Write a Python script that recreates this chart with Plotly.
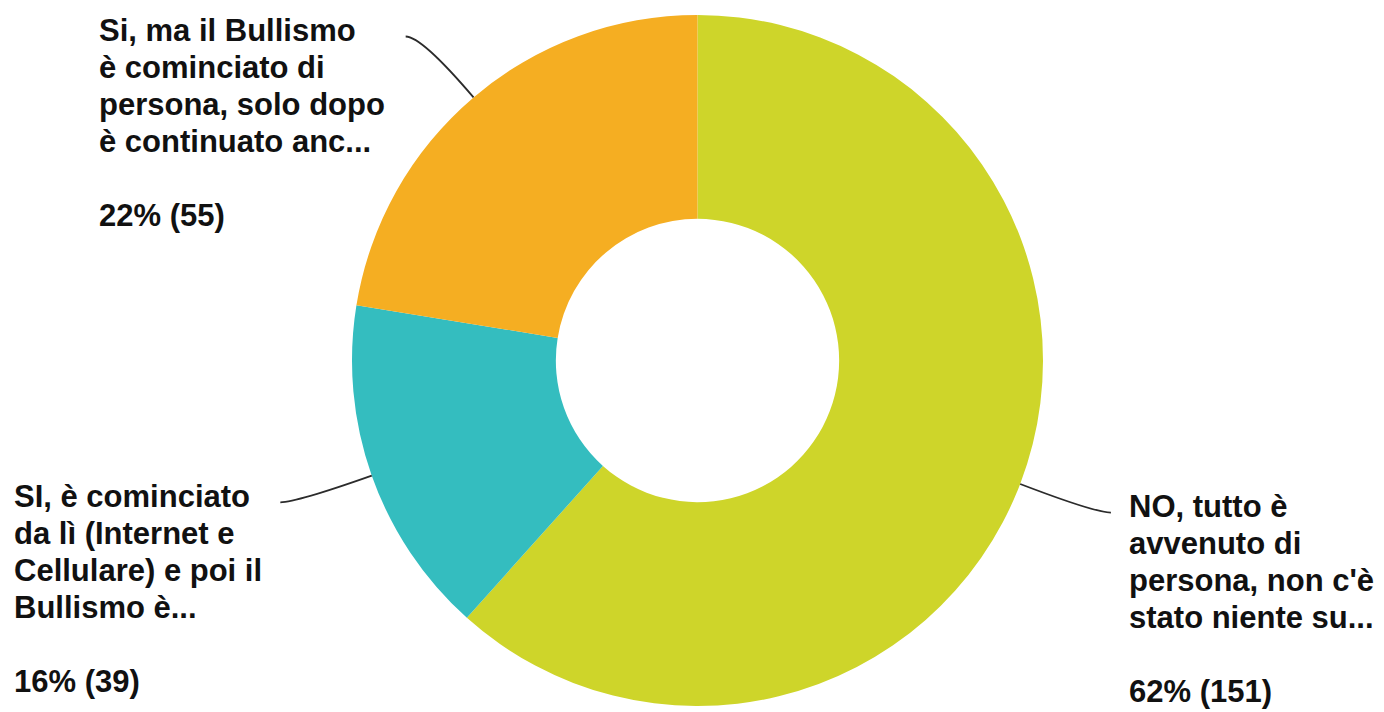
import math
import plotly.graph_objects as go

# Survey answers, counts and slice colours
labels = [
    "NO, tutto è avvenuto di persona, non c'è stato niente su...",
    "SI, è cominciato da lì (Internet e Cellulare) e poi il Bullismo è...",
    "Si, ma il Bullismo è cominciato di persona, solo dopo è continuato anc...",
]
label_lines = [
    ["NO, tutto è", "avvenuto di", "persona, non c'è", "stato niente su..."],
    ["SI, è cominciato", "da lì (Internet e", "Cellulare) e poi il", "Bullismo è..."],
    ["Si, ma il Bullismo", "è cominciato di", "persona, solo dopo", "è continuato anc..."],
]
counts = [151, 39, 55]
colors = ["#CED52A", "#34BDBF", "#F5AE22"]

W, H = 1384, 712
CX, CY, R = 697.5, 360.5, 345.5
HOLE = 0.41

# left edge of each text block (px)
text_left = [1127, 12, 97]
LINE_H = 37
FONT_SIZE = 31


def px(x):
    return x / W


def py(y):
    return 1 - y / H


fig = go.Figure(
    go.Pie(
        labels=labels,
        values=counts,
        sort=False,
        direction="clockwise",
        rotation=0,
        hole=HOLE,
        marker=dict(colors=colors, line=dict(width=0)),
        textinfo="none",
        hoverinfo="label+percent+value",
        showlegend=False,
        domain=dict(x=[px(CX - R), px(CX + R)], y=[py(CY + R), py(CY - R)]),
    )
)

total = sum(counts)
start = 0.0
shapes = []
annotations = []
for i, c in enumerate(counts):
    frac = c / total
    mid = (start + frac / 2) * 2 * math.pi
    start += frac
    dx, dy = math.sin(mid), -math.cos(mid)
    # leader: leaves the ring radially, then bends to horizontal
    x0, y0 = CX + R * dx, CY + R * dy
    x1, y1 = CX + (R + 80) * dx, CY + (R + 80) * dy
    x2 = x1 + (16 if dx > 0 else -16)
    y2 = y1
    path = f"M {px(x0)},{py(y0)} Q {px(x1)},{py(y1)} {px(x2)},{py(y2)}"
    shapes.append(
        dict(type="path", path=path, xref="paper", yref="paper",
             line=dict(color="#2b2b2b", width=1.8))
    )
    pct = round(frac * 100)
    lines = label_lines[i] + ["", f"{pct}% ({c})"]
    y_first = y2 - 6
    for k, t in enumerate(lines):
        if not t:
            continue
        annotations.append(
            dict(
                text=t,
                x=px(text_left[i]),
                y=py(y_first + k * LINE_H),
                xref="paper",
                yref="paper",
                xanchor="left",
                yanchor="middle",
                showarrow=False,
                font=dict(family="Liberation Sans, Arial, sans-serif",
                          size=FONT_SIZE, color="#111111", weight="bold"),
            )
        )

fig.update_layout(
    width=W,
    height=H,
    margin=dict(l=0, r=0, t=0, b=0),
    paper_bgcolor="white",
    plot_bgcolor="white",
    shapes=shapes,
    annotations=annotations,
)

fig.write_html("out.html")
